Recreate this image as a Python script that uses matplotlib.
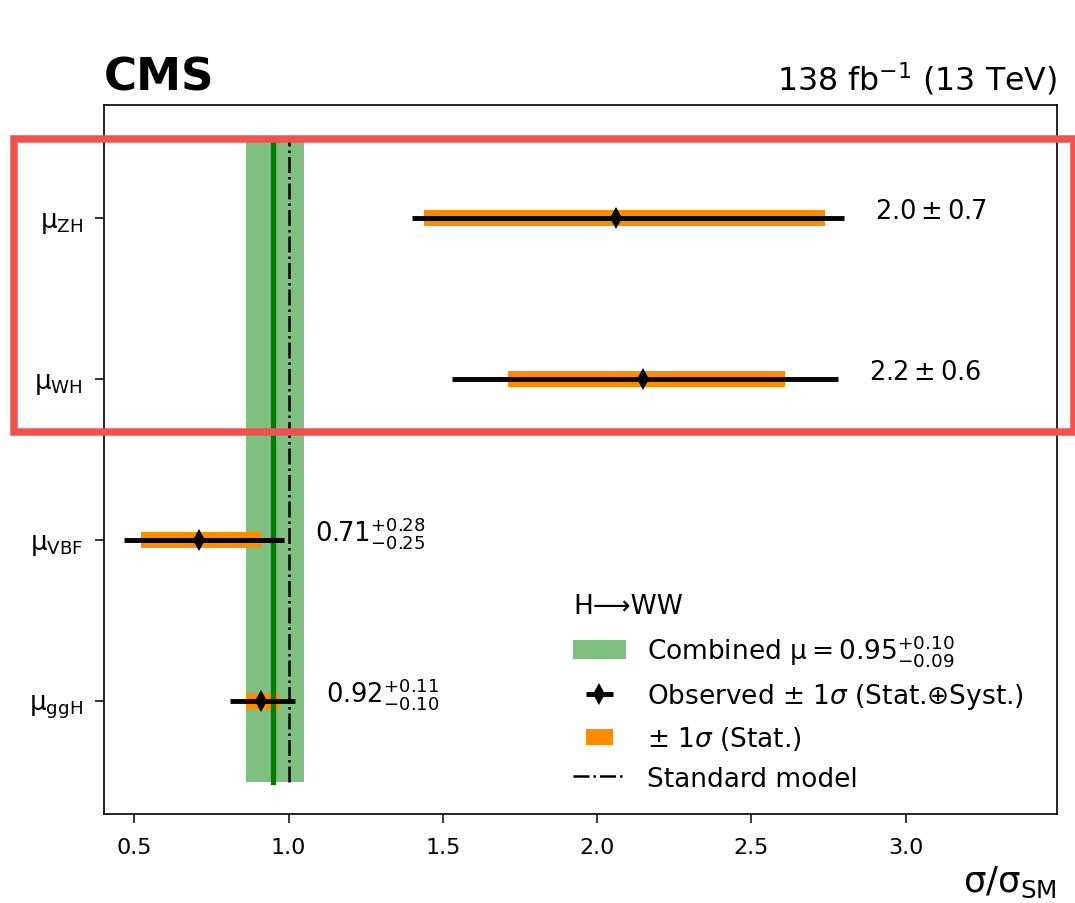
import matplotlib
matplotlib.use('Agg')
import matplotlib.pyplot as plt
from matplotlib.patches import Rectangle

# signal strengths per production mode (bottom to top)
modes = [r'$\mathrm{\mu_{ggH}}$', r'$\mathrm{\mu_{VBF}}$', r'$\mathrm{\mu_{WH}}$', r'$\mathrm{\mu_{ZH}}$']
central = [0.91, 0.71, 2.15, 2.06]
tot_lo = [0.10, 0.245, 0.62, 0.66]
tot_hi = [0.11, 0.275, 0.63, 0.74]
stat_lo = [0.05, 0.19, 0.44, 0.62]
stat_hi = [0.06, 0.20, 0.46, 0.68]
val_labels = [r'$0.92^{+0.11}_{-0.10}$', r'$0.71^{+0.28}_{-0.25}$',
              r'$2.2 \pm 0.6$', r'$2.0 \pm 0.7$']

comb = 0.95
comb_lo = 0.09
comb_hi = 0.10

fig = plt.figure(figsize=(10.75, 9.04), dpi=100)
ax = fig.add_axes([0.0964, 0.0985, 0.8866, 0.7839])

ypos = list(range(len(modes)))
ytop = len(modes) - 0.5
ybot = -0.5

band = ax.fill_betweenx([ybot, ytop], comb - comb_lo, comb + comb_hi,
                        color='green', alpha=0.5, lw=0, zorder=1,
                        label=r'Combined $\mathrm{\mu} = 0.95^{+0.10}_{-0.09}$')
ax.plot([comb, comb], [ybot, ytop], color='green', lw=3.8, zorder=3)
sm, = ax.plot([1.0, 1.0], [ybot, ytop], 'k-.', lw=1.8, zorder=3, label='Standard model')

stat = ax.errorbar(central, ypos, xerr=[stat_lo, stat_hi], fmt='none', ecolor='darkorange',
                   elinewidth=11.5, capsize=0, zorder=2, label=r'$\pm$ 1$\sigma$ (Stat.)')
obs = ax.errorbar(central, ypos, xerr=[tot_lo, tot_hi], fmt='d', color='black', ms=11, mew=0,
                  elinewidth=3.5, capsize=0, zorder=4,
                  label=r'Observed $\pm$ 1$\sigma$ (Stat.$\oplus$Syst.)')

for i in range(len(modes)):
    ax.text(central[i] + tot_hi[i] + 0.1, ypos[i], val_labels[i], fontsize=18.5, va='baseline')

ax.set_xlim(0.4, 3.49)
ax.set_ylim(-0.7, 3.7)
ax.set_yticks(ypos)
ax.set_yticklabels(modes, fontsize=18.8)
ax.set_xticks([0.5, 1.0, 1.5, 2.0, 2.5, 3.0])
ax.tick_params(axis='x', labelsize=16, length=6.5, width=1.1, pad=10)
ax.tick_params(axis='y', length=6.5, width=1.1, pad=8.5)
for s in ax.spines.values():
    s.set_linewidth(1.2)
ax.set_xlabel(r'$\mathrm{\sigma/\sigma_{SM}}$', loc='right', fontsize=25.5, labelpad=5)

ax.text(0, 1.0226, 'CMS', transform=ax.transAxes, fontsize=32.5, fontweight='bold', va='baseline')
ax.text(1, 1.0226, r'138 fb$^{-1}$ (13 TeV)', transform=ax.transAxes, fontsize=22.8,
        ha='right', va='baseline')

ax.legend(handles=[band, obs, stat, sm], title='H⟶WW', loc='lower left',
          bbox_to_anchor=(0.4675, -0.002), frameon=False, fontsize=19, title_fontsize=19,
          alignment='left')

fig.add_artist(Rectangle((13.5 / 1075, (904 - 433.3) / 904), (1074 - 13.5) / 1075,
                         (433.3 - 139.7) / 904, transform=fig.transFigure, fill=False,
                         ec='#EF5350', lw=5.4, zorder=10))

fig.savefig('out.png', dpi=100)
